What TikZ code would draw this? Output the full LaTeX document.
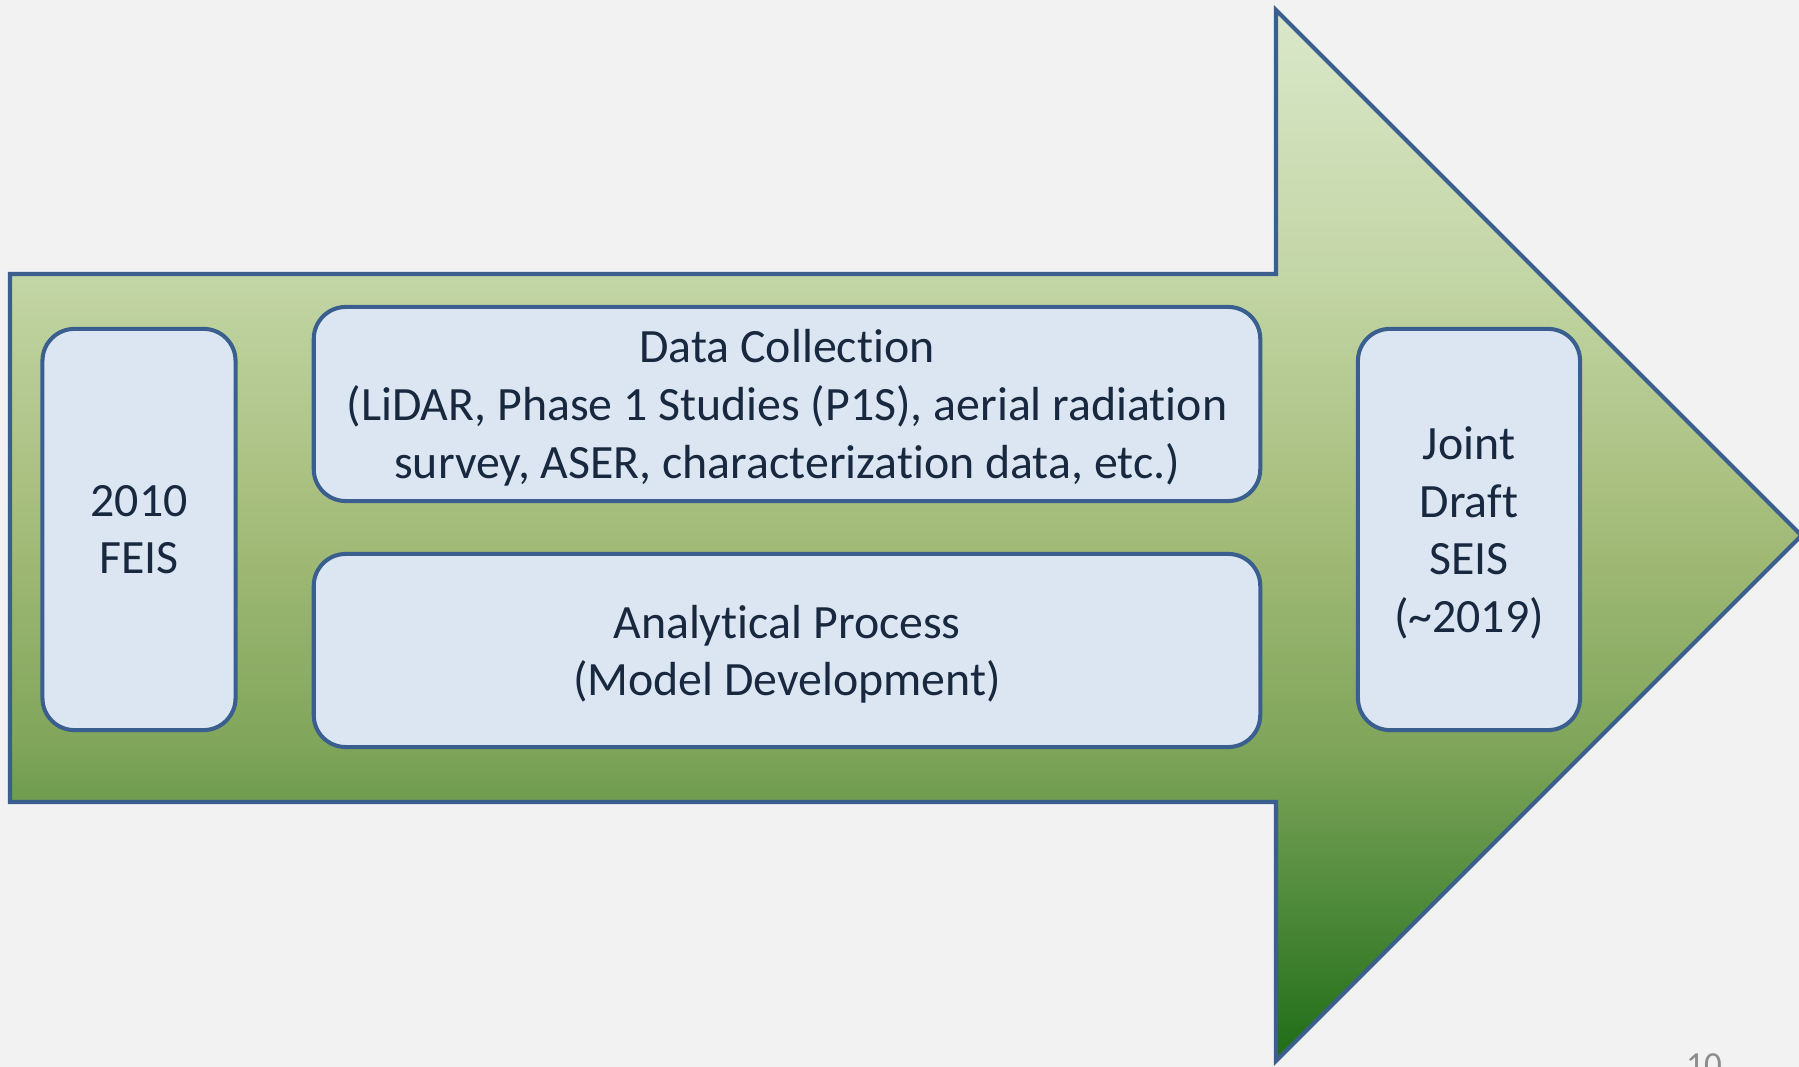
\documentclass[tikz,border=0pt]{standalone}
\usepackage{fontspec}
\setmainfont{Carlito}[Ligatures={NoCommon,NoRequired,NoContextual}]
\usetikzlibrary{positioning}

\definecolor{pagebg}{HTML}{F2F2F2}
\definecolor{edgeblue}{HTML}{3A5F8E}
\definecolor{boxblue}{HTML}{DCE6F2}
\definecolor{inkblue}{HTML}{17283F}
\definecolor{numgray}{HTML}{8C8C8C}
\definecolor{grA}{HTML}{1E6C16}
\definecolor{grB}{HTML}{4F8A3B}
\definecolor{grC}{HTML}{7FA55A}
\definecolor{grD}{HTML}{A3BB78}
\definecolor{grE}{HTML}{C3D6A6}
\definecolor{grF}{HTML}{DAE8CA}

% light green at the top, dark green at the bottom
\pgfdeclareverticalshading{arrowgreen}{100bp}{color(0bp)=(grA); color(25bp)=(grA);
  color(32.5bp)=(grB); color(40bp)=(grC); color(50bp)=(grD);
  color(62.5bp)=(grE); color(75bp)=(grF); color(100bp)=(grF)}

\begin{document}
\begin{tikzpicture}[x=0.01cm, y=-0.01cm,
        stage/.style={draw=edgeblue, fill=boxblue, line width=1.15pt,
          rounded corners=0.32cm, align=center, text=inkblue, inner sep=2pt,
          font=\fontsize{13.6}{16.4}\selectfont, text depth=0pt},
        bigarrow/.style={draw=edgeblue, line width=1.15pt, shading=arrowgreen},
        pagenum/.style={font=\fontsize{10}{12}\selectfont, text=numgray,
          inner sep=0pt, anchor=north},
      ]
        \def\bw{9.46cm}  % width of the two middle boxes

        \useasboundingbox (0,0) rectangle (1799,1067);
        \clip (0,0) rectangle (1799,1067);
        \fill[pagebg] (0,0) rectangle (1799,1067);

        % Arrow
        \draw[bigarrow] (10,274) -- (1276,274) -- (1276,10) -- (1801.5,535.5)
          -- (1276,1061) -- (1276,802) -- (10,802) -- cycle;

        % Start
        \node[stage, minimum width=1.93cm, minimum height=4.01cm]
          (feis) at (139,529.5) {2010\\FEIS};

        % Middle
        \node[stage, minimum width=\bw, minimum height=1.94cm]
          (datacoll) at (787,404)
          {Data Collection\\(LiDAR, Phase 1 Studies (P1S), aerial radiation\\survey, ASER, characterization data, etc.)};
        \node[stage, minimum width=\bw, minimum height=1.93cm]
          (analysis) at (787,650.5) {Analytical Process\\(Model Development)};

        % End
        \node[stage, minimum width=2.22cm, minimum height=4.01cm]
          (seis) at (1469,529.5) {Joint\\Draft\\SEIS\\(\textasciitilde2019)};

        \node[pagenum] (pgno) at (1704,1053) {10};
      \end{tikzpicture}
\end{document}
